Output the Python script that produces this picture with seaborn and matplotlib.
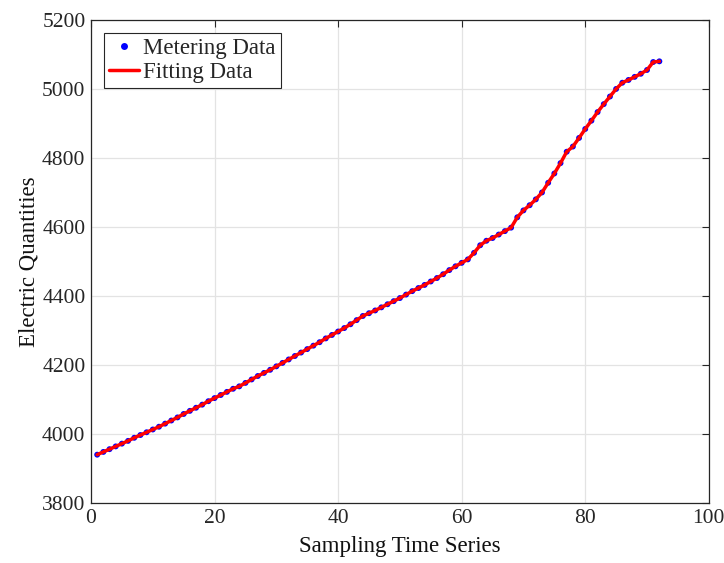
import numpy as np
import pandas as pd
import matplotlib
matplotlib.use("Agg")
import matplotlib.pyplot as plt
import seaborn as sns
from matplotlib.lines import Line2D

sns.set_theme(style="whitegrid")
plt.rcParams['font.family'] = ['Liberation Serif', 'DejaVu Serif']
plt.rcParams['mathtext.fontset'] = 'stix'

# sampling index and metered values
sample_idx = list(range(1, 93))
metering = [
    3940, 3948, 3956, 3964, 3972, 3980, 3989, 3997, 4005, 4013,
    4021, 4030, 4039, 4048, 4058, 4067, 4076, 4085, 4095, 4104,
    4113, 4122, 4131, 4138, 4148, 4158, 4168, 4177, 4186, 4196,
    4206, 4216, 4226, 4236, 4246, 4256, 4266, 4277, 4287, 4297,
    4307, 4318, 4330, 4342, 4350, 4358, 4367, 4376, 4385, 4394,
    4404, 4414, 4423, 4432, 4442, 4452, 4463, 4475, 4486, 4496,
    4506, 4525, 4547, 4560, 4568, 4578, 4588, 4598, 4628, 4648,
    4663, 4680, 4700, 4728, 4755, 4785, 4818, 4833, 4858, 4884,
    4908, 4933, 4956, 4978, 5000, 5018, 5026, 5035, 5044, 5055,
    5078, 5080,
]
# fitted curve follows the metered points
fitting = list(metering)

x_ticks = [0, 20, 40, 60, 80, 100]
y_ticks = [3800, 4000, 4200, 4400, 4600, 4800, 5000, 5200]

df = pd.DataFrame({'t': sample_idx, 'meter': metering, 'fit': fitting})

fig = plt.figure(figsize=(7.24, 5.63), dpi=100, facecolor='white')
ax = fig.add_axes([0.1257, 0.1066, 0.8533, 0.858])
ax.set_facecolor('white')

sns.scatterplot(data=df, x='t', y='meter', color='blue', s=18, edgecolor='none', ax=ax, zorder=3)
sns.lineplot(data=df, x='t', y='fit', color='red', linewidth=2.5, ax=ax, zorder=4)

ax.set_xlim(0, 100)
ax.set_ylim(3800, 5200)
ax.set_xticks(x_ticks)
ax.set_yticks(y_ticks)
ax.grid(True, color='#e3e3e3', linewidth=0.9)
ax.tick_params(direction='in', length=5, width=0.8, colors='#262626', labelsize=15.5,
               top=True, right=True, labeltop=False, labelright=False, pad=4)
for s in ax.spines.values():
    s.set_visible(True)
    s.set_color('#262626')
    s.set_linewidth(0.9)

ax.set_xlabel('Sampling Time Series', fontsize=16.5, color='#111111', labelpad=6)
ax.set_ylabel('Electric Quantities', fontsize=16.5, color='#111111', labelpad=2)

handles = [
    Line2D([0], [0], marker='o', color='none', markerfacecolor='blue', markeredgecolor='none', markersize=5, label='Metering Data'),
    Line2D([0], [0], color='red', linewidth=2.5, label='Fitting Data'),
]
leg = ax.legend(handles=handles, loc='upper left', fontsize=16.5, frameon=True, fancybox=False,
                edgecolor='#262626', framealpha=1, borderpad=0.25, handlelength=1.3,
                handletextpad=0.15, labelspacing=0.1, borderaxespad=0.55)
leg.get_frame().set_linewidth(0.8)

fig.savefig('out.png', dpi=100, facecolor='white')
